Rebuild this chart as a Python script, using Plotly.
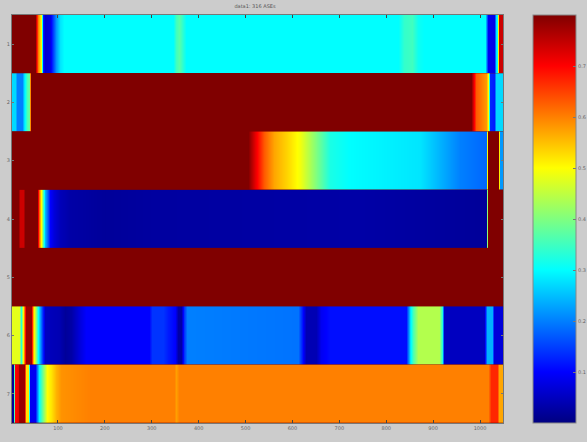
import plotly.graph_objects as go

title_text = "data1: 316 ASEs"
row_labels = ["1", "2", "3", "4", "5", "6", "7"]
x_tick_values = [100, 200, 300, 400, 500, 600, 700, 800, 900, 1000]
cbar_ticks = [0.1, 0.2, 0.3, 0.4, 0.5, 0.6, 0.7]

row1_x = [2, 52, 58, 63, 68, 72, 84, 90, 96, 104, 112, 345, 352, 358, 364, 372, 825, 838, 855, 868, 880, 1011, 1017, 1030, 1034, 1037, 1040, 1049]
row1_z = [.8, .8, .6, .5, .12, .06, .08, .15, .22, .28, .3, .3, .35, .37, .34, .3, .3, .34, .35, .31, .3, .3, .09, .08, .28, .3, .74, .74]

row2_x = [2, 9, 13, 24, 28, 33, 38, 42, 980, 987, 992, 1005, 1013, 1018, 1021, 1029, 1033, 1049]
row2_z = [.27, .27, .2, .2, .28, .36, .38, .8, .8, .7, .63, .6, .58, .5, .13, .12, .27, .27]

row3_x = [2, 505, 520, 540, 560, 590, 616, 650, 680, 720, 872, 915, 957, 1012, 1017, 1038, 1042, 1049]
row3_z = [.8, .8, .72, .63, .57, .53, .49, .4, .32, .3, .28, .24, .2, .18, .8, .8, .22, .22]

row4_x = [2, 15, 19, 26, 30, 56, 60, 64, 68, 73, 78, 83, 92, 104, 126, 200, 300, 740, 1012, 1017, 1049]
row4_z = [.8, .8, .74, .74, .8, .8, .62, .5, .36, .24, .16, .1, .07, .045, .03, .02, .025, .03, .02, .8, .8]

row5_x = [2, 1049]
row5_z = [.8, .8]

row6_x = [2, 17, 22, 27, 32, 43, 47, 52, 58, 65, 72, 102, 115, 128, 145, 160, 294, 300, 325, 335, 350, 356, 362, 368, 376, 612, 620, 628, 650, 660, 680, 842, 850, 858, 868, 912, 918, 924, 1009, 1015, 1025, 1030, 1049]
row6_z = [.48, .48, .33, .6, .78, .78, .56, .45, .3, .15, .05, .04, .02, .03, .07, .1, .1, .14, .14, .12, .1, .03, .03, .14, .2, .19, .12, .04, .04, .09, .11, .11, .28, .36, .44, .44, .33, .05, .05, .24, .24, .07, .07]

row7_x = [2, 5, 8, 14, 17, 27, 31, 36, 40, 50, 55, 60, 68, 77, 85, 95, 106, 170, 347, 352, 358, 1018, 1023, 1036, 1040, 1049]
row7_z = [.02, .02, .7, .72, .78, .78, .52, .52, .09, .09, .2, .3, .4, .5, .52, .56, .585, .6, .6, .575, .6, .6, .67, .67, .57, .57]

rows_x = [row1_x, row2_x, row3_x, row4_x, row5_x, row6_x, row7_x]
rows_z = [row1_z, row2_z, row3_z, row4_z, row5_z, row6_z, row7_z]

jet = [
    [0.0, "rgb(0,0,128)"],
    [0.125, "rgb(0,0,255)"],
    [0.375, "rgb(0,255,255)"],
    [0.625, "rgb(255,255,0)"],
    [0.875, "rgb(255,0,0)"],
    [1.0, "rgb(128,0,0)"],
]

fig = go.Figure()
for i, (xs, zs) in enumerate(zip(rows_x, rows_z)):
    fig.add_trace(go.Heatmap(x=xs, y=[i + 0.75, i + 1.25], z=[zs, zs], zsmooth="best",
                             coloraxis="coloraxis", hoverinfo="skip"))

tick_font = dict(family="DejaVu Sans", size=5, color="#666666")
fig.update_layout(
    width=587, height=442, autosize=False,
    paper_bgcolor="#cccccc", plot_bgcolor="#800000",
    margin=dict(l=12, r=84, t=15, b=19, autoexpand=False),
    title=dict(text=title_text, x=255 / 587, xanchor="center", y=0.985, yanchor="middle",
               font=dict(family="DejaVu Sans", size=5, color="#555555")),
    coloraxis=dict(
        colorscale=jet, cmin=0, cmax=0.8,
        colorbar=dict(
            thickness=43, thicknessmode="pixels", len=408, lenmode="pixels",
            x=1.061, xanchor="left", y=0.5, yanchor="middle", xpad=0, ypad=0,
            ticks="inside", ticklen=3, tickcolor="#777777", tickvals=cbar_ticks,
            tickfont=tick_font, outlinecolor="#888888", outlinewidth=1,
        ),
    ),
    xaxis=dict(range=[2, 1049], tickvals=x_tick_values, ticks="inside", ticklen=3,
               tickcolor="#444444", tickfont=tick_font, showgrid=False, zeroline=False,
               mirror="ticks", showline=True, linecolor="#777777", linewidth=1),
    yaxis=dict(range=[7.5, 0.5], tickvals=[1, 2, 3, 4, 5, 6, 7], ticktext=row_labels,
               ticks="inside", ticklen=2, tickcolor="#777777", tickfont=tick_font,
               showgrid=False, zeroline=False, mirror="ticks", showline=True,
               linecolor="#777777", linewidth=1),
)

fig.write_html("out.html", config={"displayModeBar": False},
               post_script="document.body.style.margin='0';")
